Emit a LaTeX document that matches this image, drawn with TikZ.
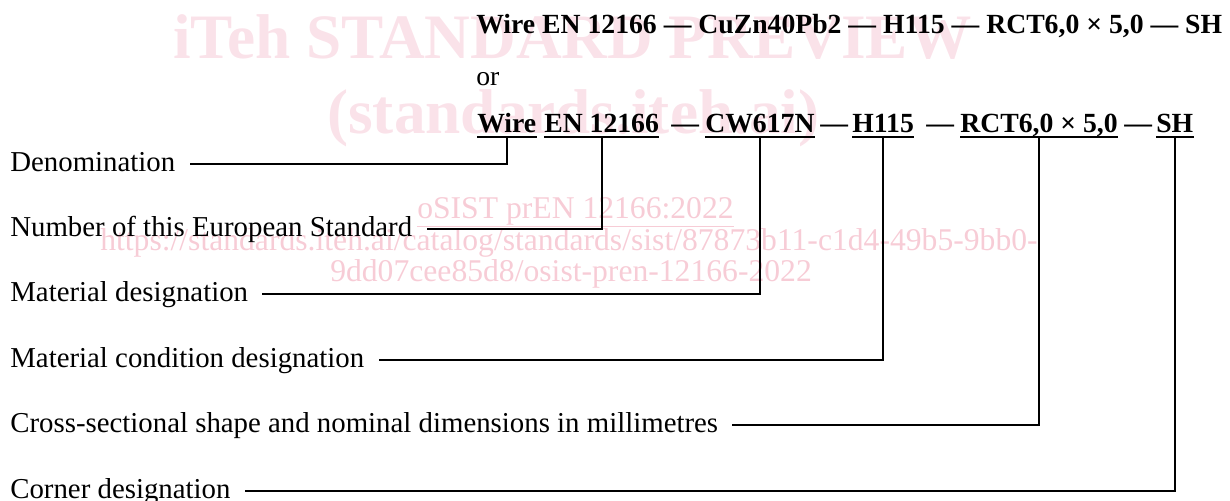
\documentclass[tikz,border=0pt]{standalone}
\usepackage{fontspec}
\setmainfont{Liberation Serif}
\usetikzlibrary{positioning}
\definecolor{wmbig}{RGB}{250,226,233}
\definecolor{wmsmall}{RGB}{247,204,214}
\tikzset{
  lbl/.style={anchor=west,font=\fontsize{20.5}{24}\selectfont,
    inner xsep=10pt,inner ysep=0pt,text height=14pt,text depth=4pt},
  code/.style={anchor=base west,font=\fontsize{19.7}{24}\selectfont\bfseries,
    inner sep=0pt,text height=14pt,text depth=3.2pt},
  uline/.style={line width=1.5pt},
  lead/.style={line width=1.3pt},
  wmark/.style={text=wmbig,font=\fontsize{45}{50}\selectfont\bfseries,
    inner sep=0pt,anchor=base west},
  wmline/.style={text=wmsmall,font=\fontsize{22.5}{26}\selectfont,
    inner sep=0pt,anchor=base west}
}

\begin{document}
\begin{tikzpicture}[x=0.025cm,y=-0.025cm]
        \useasboundingbox (0,0) rectangle (1230,500);

        % watermark
        \node[wmark] (wmtitle) at (173,58) {iTeh STANDARD PREVIEW};
        \node[wmark] (wmsite) at (327,133) {(standards.iteh.ai)};
        \node[wmline] (wmdoc) at (417,218) {\underline{oSIST prEN 12166:2022}};
        \node[wmline] (wmurl) at (100,250)
          {https://standards.iteh.ai/catalog/standards/sist/87873b11-c1d4-49b5-9bb0-};
        \node[wmline] (wmurltail) at (330,281) {9dd07cee85d8/osist-pren-12166-2022};

        % designation examples
        \node[code] (full) at (476,33)
          {Wire EN 12166 — CuZn40Pb2 — H115 — RCT6,0 × 5,0 — SH};
        \node[code,font=\fontsize{19.7}{24}\selectfont] (or) at (476,85) {or};

        \node[code] (wire) at (477,132) {Wire};
        \node[code] (std)  at (544,132) {EN 12166};
        \node[code] (dsha) at (671,132) {—};
        \node[code] (mat)  at (705,132) {CW617N};
        \node[code] (dshb) at (820,132) {—};
        \node[code] (cond) at (852,132) {H115};
        \node[code] (dshc) at (926,132) {—};
        \node[code] (dim)  at (960,132) {RCT6,0 × 5,0};
        \node[code] (dshd) at (1124,132) {—};
        \node[code] (crn)  at (1156,132) {SH};

        \foreach \n in {wire,std,mat,cond,dim,crn}
          \draw[uline] (\n.south west) -- (\n.south east);

        % explanations
        \node[lbl] (denom) at (-4,164) {Denomination};
        \node[lbl] (num)   at (-4,229) {Number of this European Standard};
        \node[lbl] (matd)  at (-4,294) {Material designation};
        \node[lbl] (condd) at (-4,360) {Material condition designation};
        \node[lbl] (dimd)  at (-4,425)
          {Cross-sectional shape and nominal dimensions in millimetres};
        \node[lbl] (crnd)  at (-4,491) {Corner designation};

        \foreach \a/\b in {wire/denom,std/num,mat/matd,cond/condd,dim/dimd,crn/crnd}
          \draw[lead] (\a.south) |- (\b.east);
      \end{tikzpicture}
\end{document}
